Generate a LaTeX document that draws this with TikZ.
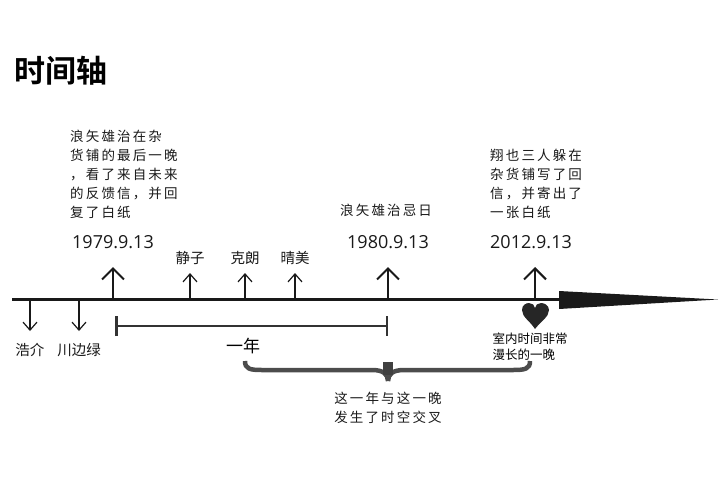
\documentclass[tikz,border=0pt]{standalone}
\usepackage{fontspec}
\setmainfont{Open Sans}
\newfontfamily\cjk{Noto Sans CJK SC}[BoldFont={* Bold}]
\newfontfamily\kai{Noto Sans CJK SC}[LetterSpace=16]
\usetikzlibrary{arrows.meta,positioning}

\begin{document}
\begin{tikzpicture}[x=1pt,y=-1pt,
		bigArrow/.style={line width=2pt,draw=black!90,-{Straight Barb[length=11pt,width=22pt]}},
		smallArrow/.style={line width=1.2pt,draw=black!90,-{Straight Barb[length=8pt,width=14pt]}},
		DateStyle/.style={font=\fontsize{18}{20}\selectfont,text=black!90},
		NameStyle/.style={font=\cjk\fontsize{14.5}{16}\selectfont,text=black!90},
		NoteStyle/.style={font=\kai\fontsize{13.5}{19}\selectfont,align=left,inner sep=0pt,text=black!90}]
		\useasboundingbox (0,0) rectangle (720,480);
		\node[font=\cjk\bfseries\fontsize{31}{32}\selectfont] (title) at (61,71) {时间轴};
		% axis
		\coordinate (a0) at (12,299);
		\coordinate (a1) at (560,299);
		\draw[line width=3pt,black!90] (a0) -- (a1);
		\fill[black!90] (559,291) -- (718,299.5) -- (559,309) -- cycle;
		\foreach \n/\x in {t79/113,t80/388,t12/535}{
			\coordinate (\n) at (\x,299);
			\coordinate (\n up) at (\x,267);
			\draw[bigArrow] (\n) -- (\n up);
		}
		\foreach \n/\x/\lab in {js/190/静子,kl/245/克朗,qm/295/晴美}{
			\coordinate (\n) at (\x,299);
			\coordinate (\n up) at (\x,273);
			\draw[smallArrow] (\n) -- (\n up);
			\node[NameStyle] (\n lab) at (\x,258) {\lab};
		}
		\foreach \n/\x/\lab in {hj/30/浩介,cb/79/川边绿}{
			\coordinate (\n) at (\x,299);
			\coordinate (\n down) at (\x,331);
			\draw[smallArrow] (\n) -- (\n down);
			\node[NameStyle] (\n lab) at (\x,350) {\lab};
		}
		% dates
		\node[DateStyle] (d79) at (113,242) {1979.9.13};
		\node[DateStyle] (d80) at (388,242) {1980.9.13};
		\node[DateStyle] (d12) at (531,242) {2012.9.13};
		\node[NoteStyle,anchor=north west] (n79) at (70,130) {浪矢雄治在杂\\货铺的最后一晚\\，看了来自未来\\的反馈信，并回\\复了白纸};
		\node[NoteStyle,anchor=north west] (n80) at (340,204) {浪矢雄治忌日};
		\node[NoteStyle,anchor=north west] (n12) at (490,149) {翔也三人躲在\\杂货铺写了回\\信，并寄出了\\一张白纸};
		% one year
		\coordinate (y0) at (115,326);
		\coordinate (y1) at (388,326);
		\draw[line width=2.5pt,black!80,{Bar[width=20pt]}-{Bar[width=20pt]}] (y0) -- (y1);
		\node[font=\cjk\fontsize{17}{18}\selectfont] (year) at (243,346) {一年};
		% heart
		\fill[black!85] (535,329) .. controls (530,321) and (522,317) .. (522,310)
			.. controls (522,305) and (526,303) .. (529,303) .. controls (532,303) and (535,305) .. (535,308)
			.. controls (535,305) and (538,303) .. (541,303) .. controls (544,303) and (549,305) .. (549,310)
			.. controls (549,317) and (541,321) .. (535,329) -- cycle;
		\node[font=\cjk\fontsize{12.5}{16}\selectfont,align=left,inner sep=0pt] (night) at (530,347) {室内时间非常\\漫长的一晚};
		% brace
		\coordinate (bl) at (245,361);
		\coordinate (br) at (530,361);
		\coordinate (bm) at (388,381);
		\draw[line width=4.5pt,black!70] (bl) .. controls (245,369) and (250,370) .. (262,370) -- (372,370)
			.. controls (383,370) and (388,374) .. (bm);
		\draw[line width=4.5pt,black!70] (br) .. controls (530,369) and (525,370) .. (513,370) -- (404,370)
			.. controls (393,370) and (388,374) .. (bm);
		\fill[black!75] (383,362) rectangle (393,375);
		\node[NoteStyle,align=center,anchor=north] (cross) at (388,392) {这一年与这一晚\\发生了时空交叉};
\end{tikzpicture}
\end{document}
